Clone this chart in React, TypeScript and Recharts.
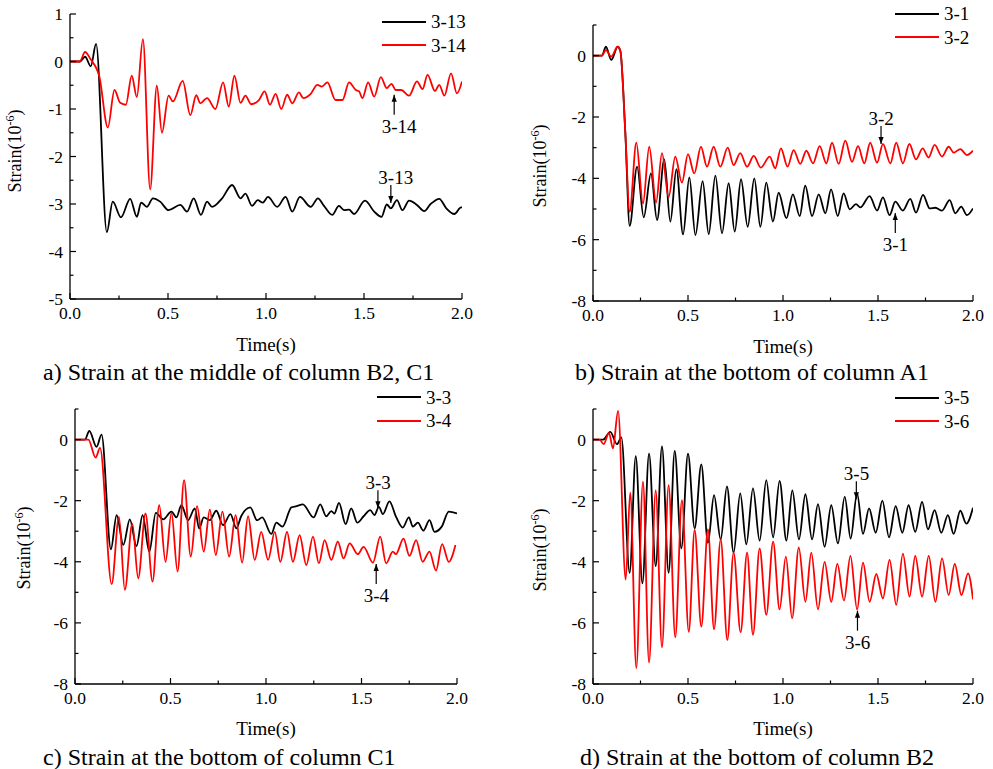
import React from 'react';
import { LineChart, Line, XAxis, YAxis, ReferenceDot, Legend } from 'recharts';

const FONT = '"Liberation Serif", "Times New Roman", "DejaVu Serif", serif';

// ---------- tick values ----------
const timeTicks = [0, 0.25, 0.5, 0.75, 1, 1.25, 1.5, 1.75, 2];
const timeLabels = [0, 0.5, 1, 1.5, 2];
const yTicksA = [-5, -4.5, -4, -3.5, -3, -2.5, -2, -1.5, -1, -0.5, 0, 0.5, 1];
const yLabelsA = [-5, -4, -3, -2, -1, 0, 1];
const yTicksB = [-8, -7, -6, -5, -4, -3, -2, -1, 0, 1];
const yLabelsB = [-8, -6, -4, -2, 0];

// ---------- series: [time (s), strain] ----------
const s3_13: [number, number][] = [
  [0, 0], [0.05, 0], [0.077, 0.1], [0.106, -0.1], [0.133, 0.37], [0.188, -3.59], [0.218, -2.95], [0.26, -3.28],
  [0.307, -2.89], [0.341, -3.27], [0.363, -2.97], [0.392, -3.06], [0.423, -2.88], [0.46, -2.95], [0.503, -3.13],
  [0.563, -3.02], [0.597, -3.16], [0.631, -2.88], [0.668, -3.23], [0.699, -2.95], [0.725, -3.06], [0.776, -2.88],
  [0.827, -2.6], [0.87, -2.88], [0.895, -2.78], [0.929, -3.04], [0.958, -2.92], [0.984, -2.97], [1.01, -2.85],
  [1.057, -3.06], [1.1, -2.85], [1.134, -3.16], [1.173, -2.85], [1.228, -3.06], [1.265, -2.88], [1.296, -3.04],
  [1.338, -3.23], [1.372, -3.04], [1.398, -3.13], [1.424, -3.12], [1.449, -3.21], [1.505, -2.93], [1.552, -3.16],
  [1.589, -3.27], [1.616, -3.01], [1.637, -3.09], [1.668, -2.92], [1.696, -3.13], [1.73, -2.93], [1.77, -3.02],
  [1.807, -3.15], [1.84, -3.0], [1.884, -2.89], [1.92, -3.09], [1.961, -3.21], [1.995, -3.07], [2.0, -3.07],
];
const s3_14: [number, number][] = [
  [0, 0], [0.05, 0], [0.077, 0.2], [0.106, 0.04], [0.15, -0.32], [0.193, -1.39], [0.227, -0.6], [0.256, -0.87],
  [0.285, -0.91], [0.315, -0.3], [0.341, -0.75], [0.372, 0.47], [0.409, -2.69], [0.443, -0.51], [0.469, -1.5],
  [0.503, -0.72], [0.525, -0.84], [0.575, -0.41], [0.614, -1.13], [0.644, -0.71], [0.665, -0.88], [0.699, -0.77],
  [0.742, -1.0], [0.781, -0.44], [0.81, -0.95], [0.839, -0.3], [0.87, -0.87], [0.895, -0.72], [0.924, -0.9],
  [0.963, -0.82], [0.993, -0.63], [1.02, -0.91], [1.049, -0.68], [1.078, -1.0], [1.108, -0.7], [1.134, -0.88],
  [1.168, -0.65], [1.19, -0.77], [1.228, -0.68], [1.262, -0.49], [1.285, -0.53], [1.313, -0.44], [1.355, -0.81],
  [1.39, -0.81], [1.424, -0.44], [1.458, -0.6], [1.475, -0.63], [1.492, -0.77], [1.521, -0.44], [1.552, -0.74],
  [1.586, -0.33], [1.616, -0.56], [1.64, -0.47], [1.662, -0.6], [1.69, -0.6], [1.73, -0.72], [1.77, -0.42],
  [1.799, -0.58], [1.824, -0.28], [1.862, -0.62], [1.884, -0.49], [1.91, -0.72], [1.944, -0.25], [1.974, -0.67],
  [2.0, -0.42],
];
const s3_1: [number, number][] = [
  [0, 0], [0.047, 0], [0.068, 0.29], [0.096, -0.14], [0.13, 0.29], [0.144, 0.15], [0.17, -2.5], [0.193, -5.55],
  [0.232, -3.62], [0.267, -5.27], [0.305, -3.84], [0.337, -5.36], [0.375, -3.38], [0.407, -5.41], [0.439, -3.7],
  [0.474, -5.83], [0.507, -3.97], [0.539, -5.85], [0.577, -4.09], [0.609, -5.82], [0.644, -3.91], [0.679, -5.79],
  [0.714, -4.16], [0.746, -5.74], [0.779, -4.03], [0.814, -5.58], [0.849, -4.0], [0.881, -5.58], [0.912, -4.14],
  [0.947, -5.41], [0.977, -4.47], [1.018, -5.3], [1.052, -4.52], [1.088, -5.23], [1.117, -4.24], [1.153, -5.23],
  [1.188, -4.52], [1.223, -5.14], [1.253, -4.36], [1.288, -5.23], [1.319, -4.49], [1.351, -5.01], [1.384, -4.84],
  [1.407, -4.95], [1.456, -4.58], [1.495, -5.05], [1.526, -4.62], [1.561, -5.2], [1.591, -4.76], [1.631, -5.05],
  [1.67, -4.67], [1.7, -5.12], [1.737, -4.54], [1.772, -4.98], [1.802, -4.96], [1.837, -5.05], [1.877, -4.71],
  [1.907, -5.14], [1.938, -4.92], [1.968, -5.2], [2.0, -4.98],
];
const s3_2: [number, number][] = [
  [0, 0], [0.047, 0], [0.068, 0.18], [0.096, -0.03], [0.13, 0.29], [0.144, 0.15], [0.17, -2.5], [0.193, -5.09],
  [0.228, -2.84], [0.263, -4.82], [0.296, -2.97], [0.332, -4.79], [0.363, -3.18], [0.398, -4.62], [0.433, -3.29],
  [0.468, -4.14], [0.5, -3.21], [0.533, -3.84], [0.568, -2.97], [0.6, -3.62], [0.635, -2.97], [0.67, -3.62],
  [0.709, -3.0], [0.74, -3.57], [0.775, -3.18], [0.811, -3.62], [0.846, -3.27], [0.883, -3.65], [0.93, -3.29],
  [0.959, -3.67], [0.989, -3.02], [1.024, -3.62], [1.056, -3.08], [1.091, -3.53], [1.123, -3.1], [1.158, -3.51],
  [1.193, -2.95], [1.228, -3.51], [1.258, -2.84], [1.293, -3.53], [1.328, -2.77], [1.363, -3.46], [1.395, -2.95],
  [1.428, -3.51], [1.459, -2.84], [1.495, -3.49], [1.526, -2.88], [1.565, -3.51], [1.596, -2.84], [1.631, -3.51],
  [1.665, -2.88], [1.7, -3.38], [1.735, -3.02], [1.766, -3.32], [1.798, -2.91], [1.837, -3.29], [1.872, -2.97],
  [1.898, -3.16], [1.933, -3.05], [1.968, -3.24], [2.0, -3.1],
];
const s3_3: [number, number][] = [
  [0, 0], [0.052, 0], [0.075, 0.28], [0.113, -0.24], [0.139, 0.16], [0.188, -3.59], [0.218, -2.47], [0.253, -3.45],
  [0.287, -2.61], [0.322, -3.49], [0.354, -2.47], [0.389, -3.67], [0.423, -2.4], [0.462, -2.61], [0.505, -2.36],
  [0.531, -2.55], [0.557, -2.15], [0.592, -2.64], [0.627, -2.25], [0.65, -2.91], [0.674, -2.55], [0.706, -2.64],
  [0.74, -2.33], [0.775, -2.8], [0.814, -2.44], [0.845, -2.91], [0.87, -2.51], [0.918, -2.22], [0.953, -2.64],
  [0.98, -2.55], [1.028, -3.09], [1.054, -2.72], [1.086, -2.85], [1.133, -2.22], [1.16, -2.18], [1.193, -2.12],
  [1.249, -2.55], [1.284, -2.12], [1.315, -2.51], [1.342, -2.34], [1.358, -2.42], [1.382, -2.07], [1.417, -2.77],
  [1.446, -2.25], [1.478, -2.72], [1.511, -2.51], [1.546, -2.31], [1.568, -2.47], [1.591, -2.2], [1.612, -2.44],
  [1.646, -2.02], [1.681, -2.53], [1.716, -2.88], [1.748, -2.55], [1.769, -2.85], [1.795, -2.72], [1.824, -2.98],
  [1.856, -2.64], [1.882, -3.02], [1.92, -2.85], [1.957, -2.36], [2.0, -2.42],
];
const s3_4: [number, number][] = [
  [0, 0], [0.07, 0], [0.108, -0.59], [0.131, -0.27], [0.192, -4.73], [0.23, -2.53], [0.261, -4.92], [0.3, -2.75],
  [0.331, -4.54], [0.369, -2.42], [0.406, -4.65], [0.441, -2.15], [0.474, -4.0], [0.505, -2.4], [0.537, -4.32],
  [0.571, -1.33], [0.606, -3.83], [0.639, -2.18], [0.674, -3.67], [0.706, -2.29], [0.737, -3.78], [0.772, -2.36],
  [0.807, -3.83], [0.841, -2.47], [0.875, -4.03], [0.906, -2.51], [0.941, -3.94], [0.975, -3.02], [1.011, -3.94],
  [1.046, -3.02], [1.075, -4.0], [1.11, -3.02], [1.141, -4.0], [1.176, -3.13], [1.211, -4.11], [1.246, -3.18],
  [1.277, -4.05], [1.307, -3.29], [1.342, -3.94], [1.376, -3.34], [1.406, -3.89], [1.438, -3.4], [1.481, -3.75],
  [1.511, -3.51], [1.56, -4.03], [1.598, -3.18], [1.629, -4.05], [1.664, -3.67], [1.68, -3.75], [1.72, -3.24],
  [1.751, -3.81], [1.786, -3.29], [1.82, -4.0], [1.856, -3.67], [1.89, -4.29], [1.922, -3.42], [1.957, -4.0],
  [1.992, -3.45],
];
const s3_5: [number, number][] = [
  [0, 0], [0.053, 0], [0.091, 0.25], [0.126, -0.15], [0.149, 0.07], [0.193, -4.36], [0.225, -0.54], [0.26, -4.71],
  [0.295, -0.46], [0.33, -4.14], [0.363, -0.22], [0.398, -4.36], [0.43, -0.37], [0.465, -3.56], [0.5, -0.46],
  [0.535, -2.91], [0.57, -0.81], [0.605, -3.38], [0.637, -1.82], [0.672, -3.27], [0.705, -1.53], [0.74, -3.7],
  [0.775, -1.76], [0.807, -3.43], [0.842, -1.6], [0.877, -3.31], [0.912, -1.33], [0.948, -3.2], [0.982, -1.35],
  [1.018, -3.31], [1.049, -1.66], [1.084, -3.27], [1.118, -1.79], [1.153, -3.27], [1.184, -2.11], [1.219, -3.51],
  [1.254, -2.15], [1.289, -3.4], [1.325, -1.87], [1.356, -3.24], [1.39, -1.76], [1.421, -3.09], [1.453, -2.25],
  [1.488, -3.05], [1.523, -2.0], [1.558, -3.2], [1.593, -2.18], [1.628, -3.05], [1.661, -2.15], [1.696, -3.02],
  [1.732, -2.04], [1.763, -2.94], [1.798, -2.31], [1.833, -3.05], [1.868, -2.47], [1.898, -3.09], [1.933, -2.33],
  [1.965, -2.75], [2.0, -2.23],
];
const s3_6: [number, number][] = [
  [0, 0], [0.035, 0], [0.056, -0.15], [0.084, 0.22], [0.105, -0.29], [0.132, 0.94], [0.172, -4.58], [0.196, -1.74],
  [0.228, -7.48], [0.263, -1.38], [0.295, -7.3], [0.33, -1.66], [0.363, -6.8], [0.398, -1.49], [0.433, -6.47],
  [0.468, -1.98], [0.504, -6.29], [0.535, -2.96], [0.57, -6.12], [0.605, -2.94], [0.637, -6.21], [0.672, -3.27],
  [0.707, -6.56], [0.74, -3.7], [0.777, -6.31], [0.811, -3.7], [0.842, -6.39], [0.877, -3.56], [0.912, -5.74],
  [0.948, -3.34], [0.982, -5.56], [1.015, -3.83], [1.048, -5.85], [1.083, -3.53], [1.118, -5.31], [1.149, -3.7],
  [1.184, -5.56], [1.219, -4.0], [1.254, -5.31], [1.286, -4.07], [1.321, -5.27], [1.355, -3.81], [1.39, -5.56],
  [1.421, -4.03], [1.456, -5.31], [1.491, -4.4], [1.526, -5.2], [1.561, -3.94], [1.596, -5.41], [1.631, -3.73],
  [1.666, -5.14], [1.696, -3.81], [1.732, -5.14], [1.767, -3.81], [1.802, -5.31], [1.837, -3.89], [1.872, -5.09],
  [1.904, -4.07], [1.939, -5.09], [1.974, -4.38], [2.0, -5.23],
];

// ---------- annotation arrows: [time, strain, label, direction] ----------
const notesA: [number, number, string, 'down' | 'up'][] = [[1.637, -2.98, '3-13', 'down'], [1.654, -0.7, '3-14', 'up']];
const notesB: [number, number, string, 'down' | 'up'][] = [[1.516, -2.88, '3-2', 'down'], [1.591, -5.13, '3-1', 'up']];
const notesC: [number, number, string, 'down' | 'up'][] = [[1.586, -2.25, '3-3', 'down'], [1.577, -4.07, '3-4', 'up']];
const notesD: [number, number, string, 'down' | 'up'][] = [[1.386, -1.95, '3-5', 'down'], [1.392, -5.6, '3-6', 'up']];

const captions = [
  'a) Strain at the middle of column B2, C1',
  'b) Strain at the bottom of column A1',
  'c) Strain at the bottom of column C1',
  'd) Strain at the bottom of column B2',
];

const BLACK = '#000000';
const RED = '#ff0000';

const toPts = (arr: [number, number][]) => arr.map(([t, v]) => ({ t, v }));
const near = (list: number[], v: number) => list.some((l) => Math.abs(l - v) < 1e-6);

const XTick = (props: any) => {
  const { x, y, payload } = props;
  const v = payload.value as number;
  const major = near(timeLabels, v);
  return (
    <g>
      <line x1={x} x2={x} y1={y} y2={y - (major ? 6 : 3.5)} stroke="#000" strokeWidth={1.2} />
      {major && (
        <text x={x} y={y + 20} textAnchor="middle" fontSize={17.5} fontFamily={FONT} fill="#000">
          {v.toFixed(1)}
        </text>
      )}
    </g>
  );
};

const makeYTick = (labels: number[]) => (props: any) => {
  const { x, y, payload } = props;
  const v = payload.value as number;
  const major = near(labels, v);
  return (
    <g>
      <line x1={x} x2={x + (major ? 6 : 3.5)} y1={y} y2={y} stroke="#000" strokeWidth={1.2} />
      {major && (
        <text x={x - 7} y={y + 6} textAnchor="end" fontSize={17.5} fontFamily={FONT} fill="#000">
          {String(v)}
        </text>
      )}
    </g>
  );
};

const Arrow = ({ cx, cy, label, dir }: any) => {
  if (cx == null || cy == null) return null;
  const down = dir === 'down';
  const shaftEnd = down ? cy - 18 : cy + 20;
  const head = down
    ? `${cx},${cy} ${cx - 2.6},${cy - 7} ${cx + 2.6},${cy - 7}`
    : `${cx},${cy} ${cx - 2.6},${cy + 7} ${cx + 2.6},${cy + 7}`;
  return (
    <g>
      <line x1={cx} x2={cx} y1={shaftEnd} y2={cy} stroke="#000" strokeWidth={1.2} />
      <polygon points={head} fill="#000" />
      <text x={cx - 12.5} y={down ? cy - 19 : cy + 38} fontSize={19} fontFamily={FONT} fill="#000">
        {label}
      </text>
    </g>
  );
};

type Series = { name: string; data: [number, number][]; color: string };

const LegendBox = ({ series }: { series: Series[] }) => (
  <div style={{ fontFamily: FONT }}>
    {series.map((s) => (
      <div key={s.name} style={{ display: 'flex', alignItems: 'center', height: 23.5 }}>
        <svg width={44} height={4} style={{ display: 'block' }}>
          <line x1={0} x2={44} y1={2} y2={2} stroke={s.color} strokeWidth={1.8} />
        </svg>
        <span style={{ marginLeft: 5, fontSize: 19, lineHeight: '23.5px', color: '#000' }}>{s.name}</span>
      </div>
    ))}
  </div>
);

type PanelCfg = {
  left: number; top: number; width: number; height: number;
  mTop: number; mRight: number; yW: number; xH: number;
  yDomain: [number, number]; yTicks: number[]; yLabels: number[];
  series: Series[]; notes: [number, number, string, 'down' | 'up'][];
  legLeft: number; legTop: number;
};

const panels: PanelCfg[] = [
  {
    left: 0, top: 0, width: 480, height: 340, mTop: 14, mRight: 18, yW: 70, xH: 41,
    yDomain: [-5, 1], yTicks: yTicksA, yLabels: yLabelsA,
    series: [{ name: '3-13', data: s3_13, color: BLACK }, { name: '3-14', data: s3_14, color: RED }],
    notes: notesA, legLeft: 382, legTop: 10,
  },
  {
    left: 500, top: 0, width: 493, height: 342, mTop: 25, mRight: 20, yW: 93, xH: 41,
    yDomain: [-8, 1], yTicks: yTicksB, yLabels: yLabelsB,
    series: [{ name: '3-1', data: s3_1, color: BLACK }, { name: '3-2', data: s3_2, color: RED }],
    notes: notesB, legLeft: 395, legTop: 2,
  },
  {
    left: 0, top: 380, width: 475, height: 345, mTop: 29, mRight: 18, yW: 75, xH: 41,
    yDomain: [-8, 1], yTicks: yTicksB, yLabels: yLabelsB,
    series: [{ name: '3-3', data: s3_3, color: BLACK }, { name: '3-4', data: s3_4, color: RED }],
    notes: notesC, legLeft: 377, legTop: 5.5,
  },
  {
    left: 500, top: 380, width: 493, height: 345, mTop: 29, mRight: 20, yW: 93, xH: 41,
    yDomain: [-8, 1], yTicks: yTicksB, yLabels: yLabelsB,
    series: [{ name: '3-5', data: s3_5, color: BLACK }, { name: '3-6', data: s3_6, color: RED }],
    notes: notesD, legLeft: 395, legTop: 6,
  },
];

const Panel = ({ cfg }: { cfg: PanelCfg }) => {
  const YTick = makeYTick(cfg.yLabels);
  return (
    <div style={{ position: 'absolute', left: cfg.left, top: cfg.top, width: cfg.width, height: cfg.height }}>
      <LineChart width={cfg.width} height={cfg.height} margin={{ top: cfg.mTop, right: cfg.mRight, bottom: 0, left: 0 }}>
        <XAxis
          type="number" dataKey="t" domain={[0, 2]} ticks={timeTicks} interval={0}
          tickSize={0} tickMargin={0} tick={(p: any) => <XTick {...p} />} height={cfg.xH}
          axisLine={{ stroke: '#000', strokeWidth: 1.3 }} allowDataOverflow
        />
        <YAxis
          type="number" dataKey="v" domain={cfg.yDomain} ticks={cfg.yTicks} interval={0}
          tickSize={0} tickMargin={0} tick={(p: any) => <YTick {...p} />} width={cfg.yW}
          axisLine={{ stroke: '#000', strokeWidth: 1.3 }} allowDataOverflow
        />
        {cfg.series.map((s) => (
          <Line
            key={s.name} name={s.name} data={toPts(s.data)} dataKey="v" type="monotone"
            stroke={s.color} strokeWidth={1.8} dot={false} activeDot={false} isAnimationActive={false}
          />
        ))}
        {cfg.notes.map(([t, v, label, dir]) => (
          <ReferenceDot
            key={label} x={t} y={v} r={0} ifOverflow="visible"
            shape={(p: any) => <Arrow cx={p.cx} cy={p.cy} label={label} dir={dir} />}
          />
        ))}
        <Legend
          layout="vertical" align="center" verticalAlign="middle"
          wrapperStyle={{ position: 'absolute', left: cfg.legLeft, top: cfg.legTop, width: 'auto', height: 'auto' }}
          content={() => <LegendBox series={cfg.series} />}
        />
      </LineChart>
    </div>
  );
};

const YLabel = ({ x, y }: { x: number; y: number }) => (
  <text transform={`translate(${x},${y}) rotate(-90)`} textAnchor="middle" fontSize={18} fontFamily={FONT} fill="#000">
    Strain(10<tspan dy={-7} fontSize={12}>-6</tspan><tspan dy={7}>)</tspan>
  </text>
);

export default function App() {
  return (
    <div style={{ position: 'absolute', left: 0, top: 0, width: 993, height: 769, background: '#fff', overflow: 'hidden' }}>
      {panels.map((p, i) => (
        <Panel key={i} cfg={p} />
      ))}
      <svg width={993} height={769} style={{ position: 'absolute', left: 0, top: 0, pointerEvents: 'none' }}>
        <YLabel x={21} y={151} />
        <YLabel x={546} y={166} />
        <YLabel x={30} y={548} />
        <YLabel x={546} y={550} />
        <g fontFamily={FONT} fontSize={19} fill="#000" textAnchor="middle">
          <text x={266} y={351}>Time(s)</text>
          <text x={783} y={353}>Time(s)</text>
          <text x={266} y={735}>Time(s)</text>
          <text x={783} y={735}>Time(s)</text>
        </g>
        <g fontFamily={FONT} fontSize={24} fill="#000">
          <text x={43} y={380}>{captions[0]}</text>
          <text x={575} y={380}>{captions[1]}</text>
          <text x={43} y={765}>{captions[2]}</text>
          <text x={580} y={765}>{captions[3]}</text>
        </g>
      </svg>
    </div>
  );
}
